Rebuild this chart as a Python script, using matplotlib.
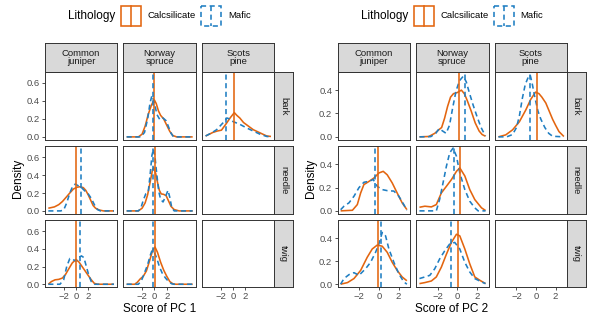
import matplotlib
matplotlib.use("Agg")
import matplotlib.pyplot as plt
from matplotlib.patches import Rectangle

plt.rcParams['font.family'] = ['Liberation Sans', 'DejaVu Sans']

# ---------------- data ----------------
species = ["Common\njuniper", "Norway\nspruce", "Scots\npine"]
tissues = ["bark", "needle", "twig"]
lithology = ["Calcsilicate", "Mafic"]
x_ticks = [-2, 0, 2]
pc1_y_ticks = [0.0, 0.2, 0.4, 0.6]
pc2_y_ticks = [0.0, 0.2, 0.4]
pc_titles = ["Score of PC 1", "Score of PC 2"]

# PC1 densities (x, y) per species/tissue/lithology
pc1_ns_bark_calc_x = [-4.5, -2.6, -2.0, -1.5, -1.0, -0.5, -0.15, 0.0, 0.3, 0.65, 1.0, 1.5, 2.0, 2.5, 3.0, 3.6, 6.2]
pc1_ns_bark_calc_y = [0, 0, 0.03, 0.12, 0.25, 0.35, 0.40, 0.41, 0.37, 0.29, 0.24, 0.2, 0.13, 0.06, 0.015, 0, 0]
pc1_ns_bark_mafic_x = [-4.5, -2.2, -1.6, -1.1, -0.7, -0.4, 0.0, 0.4, 0.9, 1.4, 1.9, 2.3, 2.7, 3.1, 6.2]
pc1_ns_bark_mafic_y = [0, 0, 0.05, 0.2, 0.38, 0.46, 0.38, 0.25, 0.19, 0.21, 0.18, 0.11, 0.04, 0, 0]
pc1_sp_bark_calc_x = [-4.5, -3.3, -2.6, -1.9, -1.1, -0.5, 0.2, 0.6, 1.1, 1.7, 2.2, 3.3, 4.4, 5.5, 6.2]
pc1_sp_bark_calc_y = [0.01, 0.05, 0.065, 0.075, 0.15, 0.21, 0.27, 0.24, 0.21, 0.16, 0.135, 0.08, 0.045, 0.01, 0.005]
pc1_sp_bark_mafic_x = [-4.5, -3.5, -2.7, -1.6, -1.0, -0.6, 0.0, 1.1, 2.2, 3.3, 4.4, 5.5, 6.2]
pc1_sp_bark_mafic_y = [0.01, 0.045, 0.08, 0.16, 0.21, 0.2, 0.17, 0.14, 0.1, 0.065, 0.03, 0.005, 0]
pc1_cj_needle_calc_x = [-4.5, -3.5, -2.8, -2.2, -1.5, -1.0, -0.4, 0.2, 0.7, 1.2, 1.6, 2.0, 2.4, 2.8, 3.2, 3.8, 4.5, 6.2]
pc1_cj_needle_calc_y = [0.03, 0.045, 0.07, 0.105, 0.16, 0.2, 0.245, 0.265, 0.27, 0.26, 0.23, 0.18, 0.12, 0.06, 0.03, 0.01, 0, 0]
pc1_cj_needle_mafic_x = [-4.5, -2.5, -2.0, -1.5, -1.0, -0.5, -0.1, 0.4, 0.9, 1.5, 2.0, 2.5, 3.0, 3.5, 4.0, 6.2]
pc1_cj_needle_mafic_y = [0, 0, 0.01, 0.09, 0.2, 0.28, 0.30, 0.28, 0.26, 0.22, 0.19, 0.14, 0.07, 0.015, 0, 0]
pc1_ns_needle_calc_x = [-4.5, -2.6, -2.0, -1.5, -1.1, -0.7, -0.3, -0.1, 0.2, 0.5, 0.8, 1.1, 1.5, 1.9, 2.3, 2.7, 3.2, 4.0, 6.2]
pc1_ns_needle_calc_y = [0, 0, 0.03, 0.09, 0.18, 0.32, 0.46, 0.485, 0.42, 0.32, 0.23, 0.19, 0.185, 0.17, 0.11, 0.05, 0.015, 0, 0]
pc1_ns_needle_mafic_x = [-4.5, -2.6, -2.2, -1.8, -1.4, -1.0, -0.7, -0.4, -0.15, 0.1, 0.4, 0.7, 1.0, 1.4, 1.8, 2.2, 2.5, 2.8, 3.2, 6.2]
pc1_ns_needle_mafic_y = [0, 0, 0.03, 0.12, 0.19, 0.21, 0.4, 0.62, 0.69, 0.6, 0.4, 0.22, 0.13, 0.1, 0.16, 0.23, 0.15, 0.04, 0, 0]
pc1_cj_twig_calc_x = [-4.5, -4.0, -3.4, -2.8, -2.2, -1.7, -1.2, -0.6, 0.0, 0.5, 1.0, 1.5, 2.0, 2.5, 3.0, 3.5, 6.2]
pc1_cj_twig_calc_y = [0.0, 0.03, 0.05, 0.055, 0.07, 0.11, 0.17, 0.24, 0.28, 0.25, 0.2, 0.15, 0.1, 0.05, 0.01, 0, 0]
pc1_cj_twig_mafic_x = [-4.5, -2.6, -2.0, -1.5, -1.0, -0.5, 0.0, 0.4, 0.9, 1.3, 1.7, 2.1, 2.5, 3.0, 6.2]
pc1_cj_twig_mafic_y = [0, 0, 0.05, 0.2, 0.29, 0.28, 0.26, 0.3, 0.32, 0.3, 0.2, 0.1, 0.03, 0, 0]
pc1_ns_twig_calc_x = [-4.5, -3.2, -2.8, -2.3, -1.8, -1.3, -0.8, -0.3, 0.1, 0.5, 1.0, 1.5, 2.0, 2.5, 3.0, 3.5, 6.2]
pc1_ns_twig_calc_y = [0, 0, 0.02, 0.06, 0.09, 0.15, 0.26, 0.38, 0.42, 0.36, 0.25, 0.16, 0.09, 0.03, 0.005, 0, 0]
pc1_ns_twig_mafic_x = [-4.5, -2.6, -2.1, -1.6, -1.1, -0.7, -0.4, 0.0, 0.4, 0.8, 1.3, 1.8, 2.3, 2.8, 3.2, 6.2]
pc1_ns_twig_mafic_y = [0, 0, 0.04, 0.13, 0.22, 0.32, 0.38, 0.36, 0.29, 0.2, 0.12, 0.07, 0.03, 0.005, 0, 0]

# PC2 densities
pc2_ns_bark_calc_x = [-3.85, -2.9, -2.3, -1.9, -1.6, -1.3, -1.0, -0.7, -0.4, 0.0, 0.4, 0.7, 1.0, 1.4, 1.8, 2.2, 2.5, 2.85]
pc2_ns_bark_calc_y = [0, 0.003, 0.03, 0.06, 0.08, 0.16, 0.26, 0.34, 0.37, 0.38, 0.40, 0.37, 0.31, 0.22, 0.12, 0.05, 0.02, 0.005]
pc2_ns_bark_mafic_x = [-3.85, -2.7, -2.2, -1.85, -1.5, -1.15, -0.8, -0.5, -0.15, 0.2, 0.6, 0.9, 1.2, 1.6, 2.0, 2.4, 2.7, 2.85]
pc2_ns_bark_mafic_y = [0, 0.002, 0.03, 0.07, 0.05, 0.03, 0.1, 0.24, 0.39, 0.48, 0.52, 0.47, 0.38, 0.27, 0.17, 0.08, 0.03, 0.01]
pc2_sp_bark_calc_x = [-3.85, -3.1, -2.4, -1.7, -1.05, -0.55, -0.05, 0.3, 0.6, 1.0, 1.4, 1.7, 2.0, 2.35, 2.85]
pc2_sp_bark_calc_y = [0, 0.017, 0.06, 0.13, 0.23, 0.32, 0.383, 0.37, 0.34, 0.29, 0.21, 0.15, 0.1, 0.045, 0.003]
pc2_sp_bark_mafic_x = [-3.85, -3.0, -2.4, -2.0, -1.7, -1.4, -1.1, -0.8, -0.6, -0.4, -0.1, 0.2, 0.5, 0.9, 1.3, 1.7, 2.85]
pc2_sp_bark_mafic_y = [0, 0, 0.02, 0.08, 0.18, 0.33, 0.45, 0.51, 0.53, 0.46, 0.33, 0.22, 0.15, 0.08, 0.03, 0.005, 0]
pc2_cj_needle_calc_x = [-3.9, -2.7, -2.2, -1.86, -1.53, -1.0, -0.5, 0.0, 0.44, 0.85, 1.36, 1.86, 2.37, 2.85]
pc2_cj_needle_calc_y = [0, 0.005, 0.054, 0.154, 0.226, 0.254, 0.283, 0.326, 0.34, 0.31, 0.24, 0.154, 0.069, 0.011]
pc2_cj_needle_mafic_x = [-3.9, -3.56, -3.05, -2.54, -2.03, -1.53, -1.0, -0.58, -0.17, 0.34, 0.85, 1.53, 2.03, 2.54, 2.85]
pc2_cj_needle_mafic_y = [0.01, 0.04, 0.069, 0.126, 0.2, 0.246, 0.254, 0.27, 0.211, 0.183, 0.174, 0.17, 0.126, 0.054, 0.005]
pc2_ns_needle_calc_x = [-3.85, -3.3, -2.64, -2.14, -1.63, -1.12, -0.6, -0.1, 0.24, 0.75, 1.25, 1.76, 2.44, 2.85]
pc2_ns_needle_calc_y = [0.031, 0.04, 0.034, 0.054, 0.154, 0.211, 0.27, 0.34, 0.37, 0.3, 0.183, 0.097, 0.026, 0.003]
pc2_ns_needle_mafic_x = [-3.85, -2.14, -1.8, -1.46, -1.12, -0.78, -0.44, -0.1, 0.24, 0.75, 1.25, 1.76, 2.1, 2.85]
pc2_ns_needle_mafic_y = [0, 0, 0.1, 0.24, 0.383, 0.5, 0.54, 0.47, 0.326, 0.183, 0.083, 0.026, 0.0, 0]
pc2_cj_twig_calc_x = [-3.9, -3.2, -2.54, -1.86, -1.19, -0.68, -0.17, 0.34, 0.85, 1.36, 1.86, 2.37, 2.85]
pc2_cj_twig_calc_y = [0, 0.014, 0.049, 0.12, 0.234, 0.306, 0.34, 0.33, 0.277, 0.19, 0.12, 0.063, 0.03]
pc2_cj_twig_mafic_x = [-3.9, -3.56, -3.05, -2.54, -2.03, -1.36, -0.85, -0.34, 0.0, 0.34, 0.68, 1.02, 1.53, 2.03, 2.54, 2.85]
pc2_cj_twig_mafic_y = [0, 0.049, 0.083, 0.1, 0.077, 0.134, 0.19, 0.277, 0.35, 0.45, 0.42, 0.306, 0.19, 0.09, 0.02, 0]
pc2_ns_twig_calc_x = [-3.85, -3.3, -2.64, -2.14, -1.63, -1.12, -0.61, -0.1, 0.24, 0.75, 1.25, 1.76, 2.27, 2.85]
pc2_ns_twig_calc_y = [0.005, 0.014, 0.028, 0.063, 0.148, 0.26, 0.363, 0.434, 0.42, 0.306, 0.177, 0.063, 0.034, 0.005]
pc2_ns_twig_mafic_x = [-3.85, -3.3, -2.8, -2.3, -1.8, -1.29, -0.78, -0.27, 0.24, 0.75, 1.25, 1.76, 2.44, 2.85]
pc2_ns_twig_mafic_y = [0.049, 0.063, 0.077, 0.134, 0.22, 0.29, 0.35, 0.363, 0.306, 0.19, 0.106, 0.049, 0.02, 0.005]

# medians (vertical lines): [calcsilicate, mafic]
pc1_ns_bark_med = [0.0, -0.27]
pc1_sp_bark_med = [0.15, -1.1]
pc1_cj_needle_med = [-0.05, 0.87]
pc1_ns_needle_med = [0.05, -0.2]
pc1_cj_twig_med = [0.0, 0.7]
pc1_ns_twig_med = [0.15, -0.27]
pc2_ns_bark_med = [0.14, 0.78]
pc2_sp_bark_med = [0.07, -0.64]
pc2_cj_needle_med = [-0.05, -0.44]
pc2_ns_needle_med = [0.24, -0.34]
pc2_cj_twig_med = [-0.05, 0.24]
pc2_ns_twig_med = [0.07, -0.61]

# ---------------- style ----------------
ORANGE = "#E3650F"
BLUE = "#1F7EC2"
W, H = 598, 316
fig = plt.figure(figsize=(W / 100, H / 100), dpi=100)

def px_axes(x0, y0, x1, y1):
    return fig.add_axes([x0 / W, 1 - y1 / H, (x1 - x0) / W, (y1 - y0) / H])

col_px = [(45, 117.3), (123.3, 196), (202.3, 274.3)]
row_px = [(71.7, 140), (146, 214), (220, 287.3)]
strip_top = (43.3, 71.7)
strip_right = (274.3, 293.3)
OFFSET = 292.5

pc1_curves = {
    (1, 0): ((pc1_ns_bark_calc_x, pc1_ns_bark_calc_y), (pc1_ns_bark_mafic_x, pc1_ns_bark_mafic_y), pc1_ns_bark_med),
    (2, 0): ((pc1_sp_bark_calc_x, pc1_sp_bark_calc_y), (pc1_sp_bark_mafic_x, pc1_sp_bark_mafic_y), pc1_sp_bark_med),
    (0, 1): ((pc1_cj_needle_calc_x, pc1_cj_needle_calc_y), (pc1_cj_needle_mafic_x, pc1_cj_needle_mafic_y), pc1_cj_needle_med),
    (1, 1): ((pc1_ns_needle_calc_x, pc1_ns_needle_calc_y), (pc1_ns_needle_mafic_x, pc1_ns_needle_mafic_y), pc1_ns_needle_med),
    (0, 2): ((pc1_cj_twig_calc_x, pc1_cj_twig_calc_y), (pc1_cj_twig_mafic_x, pc1_cj_twig_mafic_y), pc1_cj_twig_med),
    (1, 2): ((pc1_ns_twig_calc_x, pc1_ns_twig_calc_y), (pc1_ns_twig_mafic_x, pc1_ns_twig_mafic_y), pc1_ns_twig_med),
}
pc2_curves = {
    (1, 0): ((pc2_ns_bark_calc_x, pc2_ns_bark_calc_y), (pc2_ns_bark_mafic_x, pc2_ns_bark_mafic_y), pc2_ns_bark_med),
    (2, 0): ((pc2_sp_bark_calc_x, pc2_sp_bark_calc_y), (pc2_sp_bark_mafic_x, pc2_sp_bark_mafic_y), pc2_sp_bark_med),
    (0, 1): ((pc2_cj_needle_calc_x, pc2_cj_needle_calc_y), (pc2_cj_needle_mafic_x, pc2_cj_needle_mafic_y), pc2_cj_needle_med),
    (1, 1): ((pc2_ns_needle_calc_x, pc2_ns_needle_calc_y), (pc2_ns_needle_mafic_x, pc2_ns_needle_mafic_y), pc2_ns_needle_med),
    (0, 2): ((pc2_cj_twig_calc_x, pc2_cj_twig_calc_y), (pc2_cj_twig_mafic_x, pc2_cj_twig_mafic_y), pc2_cj_twig_med),
    (1, 2): ((pc2_ns_twig_calc_x, pc2_ns_twig_calc_y), (pc2_ns_twig_mafic_x, pc2_ns_twig_mafic_y), pc2_ns_twig_med),
}

LW = 1.15
DASH = (3.2, 2.2)
EDGE = "#333333"
TICKC = "#4D4D4D"
SMALL = 6.8
BIG = 8.5

def draw_block(off, curves, xlim, ylim, yticks, xtitle):
    for r in range(3):
        for c in range(3):
            x0, x1 = col_px[c]
            y0, y1 = row_px[r]
            ax = px_axes(x0 + off, y0, x1 + off, y1)
            ax.set_xlim(*xlim)
            ax.set_ylim(*ylim)
            for s in ax.spines.values():
                s.set_color(EDGE)
                s.set_linewidth(0.7)
            ax.tick_params(length=2.5, width=0.6, color=EDGE, labelsize=SMALL,
                           labelcolor=TICKC, pad=1.2)
            ax.set_xticks(x_ticks)
            ax.set_yticks(yticks)
            ax.set_yticklabels([f"{v:.1f}" for v in yticks])
            if r < 2:
                ax.tick_params(axis='x', bottom=False, labelbottom=False)
            if c > 0:
                ax.tick_params(axis='y', left=False, labelleft=False)
            if (c, r) in curves:
                calc, maf, med = curves[(c, r)]
                ax.plot(calc[0], calc[1], color=ORANGE, lw=LW, solid_capstyle='butt')
                ax.plot(maf[0], maf[1], color=BLUE, lw=LW, dashes=DASH)
                ax.axvline(med[0], color=ORANGE, lw=LW)
                ax.axvline(med[1], color=BLUE, lw=LW, dashes=DASH)
        # row strip
        sx = px_axes(strip_right[0] + off, row_px[r][0], strip_right[1] + off, row_px[r][1])
        sx.set_facecolor("#D9D9D9")
        sx.set_xticks([]); sx.set_yticks([])
        for s in sx.spines.values():
            s.set_color(EDGE); s.set_linewidth(0.7)
        sx.text(0.5, 0.5, tissues[r], rotation=-90, ha='center', va='center',
                fontsize=SMALL, color="#1A1A1A", transform=sx.transAxes)
    for c in range(3):
        sx = px_axes(col_px[c][0] + off, strip_top[0], col_px[c][1] + off, strip_top[1])
        sx.set_facecolor("#D9D9D9")
        sx.set_xticks([]); sx.set_yticks([])
        for s in sx.spines.values():
            s.set_color(EDGE); s.set_linewidth(0.7)
        sx.text(0.5, 0.5, species[c], ha='center', va='center', linespacing=1.0,
                fontsize=SMALL, color="#1A1A1A", transform=sx.transAxes)
    # titles
    fig.text((18 + off) / W, 1 - 178 / H, "Density", rotation=90, ha='center', va='center', fontsize=BIG)
    fig.text((159.5 + off) / W, 1 - 309.5 / H, xtitle, ha='center', va='center', fontsize=BIG)

draw_block(0, pc1_curves, (-5.04, 6.74), (-0.0345, 0.725), pc1_y_ticks, pc_titles[0])
draw_block(OFFSET, pc2_curves, (-4.22, 3.15), (-0.027, 0.558), pc2_y_ticks, pc_titles[1])

# legends
lg = fig.add_axes([0, 0, 1, 1])
lg.set_xlim(0, W); lg.set_ylim(H, 0); lg.axis('off')
for off in (0, OFFSET):
    lg.text(68 + off, 15.5, "Lithology", ha='left', va='center', fontsize=BIG)
    lg.add_patch(Rectangle((121 + off, 5.5), 20, 20, fill=False, edgecolor=ORANGE, lw=LW))
    lg.plot([131 + off, 131 + off], [5.5, 25.5], color=ORANGE, lw=LW)
    lg.text(148 + off, 15.5, lithology[0], ha='left', va='center', fontsize=SMALL)
    lg.add_patch(Rectangle((201 + off, 5.5), 20, 20, fill=False, edgecolor=BLUE, lw=LW,
                           linestyle=(0, DASH)))
    lg.plot([211 + off, 211 + off], [5.5, 25.5], color=BLUE, lw=LW, dashes=DASH)
    lg.text(228 + off, 15.5, lithology[1], ha='left', va='center', fontsize=SMALL)

fig.savefig("out.png", dpi=100)
